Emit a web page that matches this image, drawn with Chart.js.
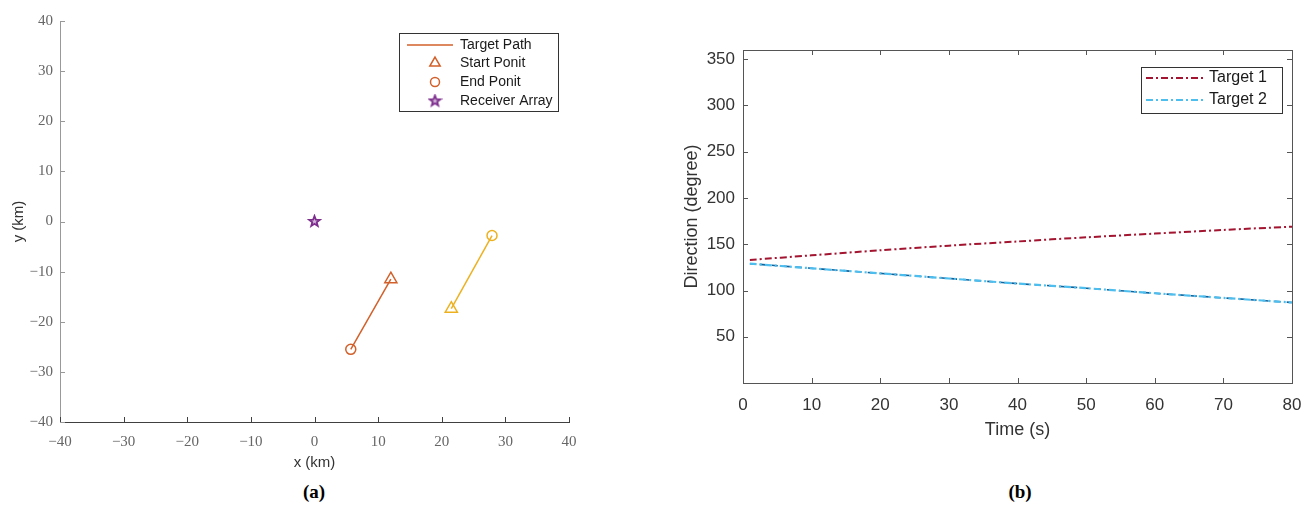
<!DOCTYPE html>
<html>
<head>
<meta charset="utf-8">
<script src="https://cdn.jsdelivr.net/npm/chart.js@4/dist/chart.umd.min.js"></script>
<style>
  html, body { margin: 0; padding: 0; background: #fff; }
  body { width: 1315px; height: 512px; position: relative; overflow: hidden; }
  .panel { position: absolute; top: 0; }
  .cap { position: absolute; top: 481px; font: bold 19px "Liberation Serif", serif; color: #000; transform: translateX(-50%); }
</style>
</head>
<body>
<div class="panel" style="left:0;width:600px;height:472px"><canvas id="chartA" width="600" height="472"></canvas></div>
<div class="panel" style="left:640px;width:675px;height:441px"><canvas id="chartB" width="675" height="441"></canvas></div>
<div class="cap" style="left:314px">(a)</div>
<div class="cap" style="left:1020px">(b)</div>
<script>
// panel (a) - target tracks, km
var startX = [12, 21.5];
var startY = [-11.5, -17.4];
var endX = [5.7, 27.9];
var endY = [-25.5, -2.8];
var receiverX = [0];
var receiverY = [0];
var trackColors = ['#D2602A', '#EDB120'];
var receiverColor = '#7E2F8E';

// panel (b) - bearing vs time
var timeS = [1, 10, 20, 30, 40, 50, 60, 70, 80];
var target1Deg = [133, 138, 143.5, 148.5, 153, 157.5, 161.5, 165.5, 169];
var target2Deg = [129, 124, 118.5, 113, 107.5, 102.5, 97, 92, 87];

var sans = '"Liberation Sans", Arial, sans-serif';
var serif = '"Liberation Serif", "Times New Roman", serif';

function makeStar(r, color) {
  var c = document.createElement('canvas');
  var s = Math.ceil(r * 2 + 4);
  c.width = s; c.height = s;
  var g = c.getContext('2d');
  g.strokeStyle = color; g.lineWidth = 1.8;
  g.fillStyle = 'rgba(126,47,142,0.35)';
  g.beginPath();
  for (var i = 0; i < 10; i++) {
    var rad = i % 2 === 0 ? r : r * 0.42;
    var a = -Math.PI / 2 + i * Math.PI / 5;
    var px = s / 2 + rad * Math.cos(a), py = s / 2 + rad * Math.sin(a);
    if (i === 0) g.moveTo(px, py); else g.lineTo(px, py);
  }
  g.closePath(); g.fill(); g.stroke();
  return c;
}
var starImg = makeStar(5.5, receiverColor);

function minus(v) { return (v < 0 ? '\u2212' : '') + Math.abs(v); }

// tick marks pointing into the plot, like matlab
function insideTicks(list) {
  return {
    id: 'insideTicks',
    beforeDatasetsDraw: function(chart) {
      var ctx = chart.ctx, a = chart.chartArea;
      ctx.save();
      ctx.lineWidth = 1;
      list.forEach(function(t) {
        var sc = chart.scales[t.scale];
        ctx.strokeStyle = t.color;
        sc.ticks.forEach(function(tk) {
          if (t.skip && t.skip.indexOf(tk.value) >= 0) return;
          var p = Math.round(sc.getPixelForValue(tk.value)) + 0.5;
          ctx.beginPath();
          if (t.side === 'bottom') { ctx.moveTo(p, a.bottom); ctx.lineTo(p, a.bottom - t.len); }
          if (t.side === 'top') { ctx.moveTo(p, a.top); ctx.lineTo(p, a.top + t.len); }
          if (t.side === 'left') { ctx.moveTo(a.left, p); ctx.lineTo(a.left + t.len, p); }
          if (t.side === 'right') { ctx.moveTo(a.right, p); ctx.lineTo(a.right - t.len, p); }
          ctx.stroke();
        });
      });
      ctx.restore();
    }
  };
}

function drawMarker(ctx, style, x, y, r, color) {
  ctx.save();
  ctx.strokeStyle = color; ctx.lineWidth = 1.5;
  ctx.beginPath();
  if (style === 'triangle') {
    for (var i = 0; i < 3; i++) {
      var ang = i * 2 * Math.PI / 3;
      var px = x + Math.sin(ang) * r, py = y - Math.cos(ang) * r;
      if (i === 0) ctx.moveTo(px, py); else ctx.lineTo(px, py);
    }
    ctx.closePath(); ctx.stroke();
  } else if (style === 'circle') {
    ctx.arc(x, y, r, 0, Math.PI * 2); ctx.stroke();
  } else {
    ctx.drawImage(style, x - style.width / 2, y - style.height / 2);
  }
  ctx.restore();
}

// boxed legend placed at the top right of the chart area
function boxLegend(cfg) {
  return {
    id: 'boxLegend',
    afterDraw: function(chart) {
      var ctx = chart.ctx, a = chart.chartArea;
      var left = a.right - cfg.right - cfg.width, top = a.top + cfg.top;
      ctx.save();
      ctx.fillStyle = '#fff';
      ctx.fillRect(left, top, cfg.width, cfg.height);
      ctx.strokeStyle = '#333'; ctx.lineWidth = 1;
      ctx.strokeRect(Math.round(left) + 0.5, Math.round(top) + 0.5, cfg.width, cfg.height);
      ctx.font = cfg.font;
      ctx.textBaseline = 'middle';
      cfg.items.forEach(function(it, i) {
        var y = top + cfg.rows[i];
        if (it.line) {
          ctx.save();
          ctx.strokeStyle = it.color; ctx.lineWidth = it.width || 1.5;
          ctx.setLineDash(it.dash || []);
          ctx.beginPath();
          ctx.moveTo(left + cfg.lineFrom, y); ctx.lineTo(left + cfg.lineTo, y);
          ctx.stroke();
          ctx.restore();
        } else {
          drawMarker(ctx, it.marker, left + cfg.markX, y, it.r, it.color);
        }
        ctx.fillStyle = '#1a1a1a';
        ctx.fillText(it.text, left + cfg.textX, y);
      });
      ctx.restore();
    }
  };
}

var dsA = [];
for (var i = 0; i < startX.length; i++) {
  dsA.push({
    label: 'Target Path',
    data: [{x: startX[i], y: startY[i]}, {x: endX[i], y: endY[i]}],
    showLine: true, borderColor: trackColors[i], borderWidth: 1.5, pointRadius: 0
  });
  dsA.push({
    label: 'Start Ponit',
    data: [{x: startX[i], y: startY[i]}],
    pointStyle: 'triangle', pointRadius: 7, borderColor: trackColors[i],
    backgroundColor: 'rgba(0,0,0,0)', borderWidth: 1.5
  });
  dsA.push({
    label: 'End Ponit',
    data: [{x: endX[i], y: endY[i]}],
    pointStyle: 'circle', pointRadius: 5, borderColor: trackColors[i],
    backgroundColor: 'rgba(0,0,0,0)', borderWidth: 1.5
  });
}
dsA.push({
  label: 'Receiver Array',
  data: receiverX.map(function(x, k) { return {x: x, y: receiverY[k]}; }),
  pointStyle: starImg, pointRadius: 6, borderColor: receiverColor
});

new Chart(document.getElementById('chartA'), {
  type: 'scatter',
  data: { datasets: dsA },
  options: {
    responsive: false, animation: false,
    layout: { padding: { left: 10, right: 31, top: 21, bottom: 0 } },
    plugins: { legend: { display: false }, tooltip: { enabled: false } },
    scales: {
      x: {
        type: 'linear', position: 'bottom', min: -40, max: 40,
        ticks: { stepSize: 10, padding: 11, color: '#666', font: { family: serif, size: 15 }, callback: minus },
        grid: { display: false, drawTicks: false },
        border: { display: true, color: '#404040', width: 1 },
        title: { display: true, text: 'x (km)', color: '#333', padding: 0, font: { family: sans, size: 15 } },
        afterFit: function(s) { s.height = 50; }
      },
      y: {
        type: 'linear', position: 'left', min: -40, max: 40,
        ticks: { stepSize: 10, padding: 7, color: '#666', font: { family: serif, size: 15 }, callback: minus },
        grid: { display: false, drawTicks: false },
        border: { display: true, color: '#999', width: 1 },
        title: { display: true, text: 'y (km)', color: '#333', padding: 0, font: { family: sans, size: 15 } },
        afterFit: function(s) { s.width = 50; }
      }
    }
  },
  plugins: [
    insideTicks([
      { scale: 'x', side: 'bottom', len: 5, color: '#404040' },
      { scale: 'y', side: 'left', len: 5, color: '#999' }
    ]),
    boxLegend({
      right: 11, top: 12, width: 159, height: 78, font: '14px ' + sans,
      rows: [12, 30, 49, 68], lineFrom: 8, lineTo: 54, markX: 36, textX: 61,
      items: [
        { line: true, color: trackColors[0], text: 'Target Path' },
        { marker: 'triangle', r: 6, color: trackColors[0], text: 'Start Ponit' },
        { marker: 'circle', r: 4.5, color: trackColors[0], text: 'End Ponit' },
        { marker: starImg, color: receiverColor, text: 'Receiver Array' }
      ]
    })
  ]
});

var dash = [7, 3, 2, 3];
function pts(ys) { return timeS.map(function(t, k) { return {x: t, y: ys[k]}; }); }

new Chart(document.getElementById('chartB'), {
  type: 'line',
  data: {
    datasets: [
      { label: 'Target 1', data: pts(target1Deg), borderColor: '#A2142F', borderWidth: 2, borderDash: dash, pointRadius: 0, tension: 0.3 },
      { label: 'Target 2', data: pts(target2Deg), borderColor: '#4DBEEE', borderWidth: 2.2, borderDash: dash, pointRadius: 0, tension: 0.3 },
      { label: 'Target 2 track', data: pts(target2Deg), borderColor: '#135F98', borderWidth: 1.6, borderDash: [6, 6], borderDashOffset: 2, pointRadius: 0, tension: 0.3 }
    ]
  },
  options: {
    responsive: false, animation: false,
    layout: { padding: { left: 41, right: 23, top: 50, bottom: 0 } },
    plugins: { legend: { display: false }, tooltip: { enabled: false } },
    scales: {
      x: {
        type: 'linear', min: 0, max: 80,
        ticks: { stepSize: 10, padding: 12, color: '#333', font: { family: sans, size: 17 } },
        grid: { display: false, drawTicks: false },
        border: { display: false },
        title: { display: true, text: 'Time (s)', color: '#333', padding: 0, font: { family: sans, size: 18 } },
        afterFit: function(s) { s.height = 58; }
      },
      y: {
        type: 'linear', min: 0, max: 360,
        ticks: { stepSize: 50, includeBounds: false, padding: 8, color: '#333', font: { family: sans, size: 17 },
          callback: function(v) { return v === 0 ? '' : v; } },
        grid: { display: false, drawTicks: false },
        border: { display: false },
        title: { display: true, text: 'Direction (degree)', color: '#333', padding: 0, font: { family: sans, size: 18 } },
        afterFit: function(s) { s.width = 62; }
      }
    }
  },
  plugins: [
    {
      id: 'frame',
      afterDatasetsDraw: function(chart) {
        var a = chart.chartArea, ctx = chart.ctx;
        ctx.save();
        ctx.strokeStyle = '#555'; ctx.lineWidth = 1;
        ctx.strokeRect(Math.round(a.left) + 0.5, Math.round(a.top) + 0.5, Math.round(a.width), Math.round(a.height));
        ctx.restore();
      }
    },
    insideTicks([
      { scale: 'x', side: 'bottom', len: 5, color: '#555', skip: [0, 80] },
      { scale: 'x', side: 'top', len: 5, color: '#555', skip: [0, 80] },
      { scale: 'y', side: 'left', len: 5, color: '#555', skip: [0] },
      { scale: 'y', side: 'right', len: 5, color: '#555', skip: [0] }
    ]),
    boxLegend({
      right: 10, top: 17, width: 141, height: 46, font: '16px ' + sans,
      rows: [11, 33], lineFrom: 5, lineTo: 64, textX: 68,
      items: [
        { line: true, color: '#A2142F', dash: dash, width: 2, text: 'Target 1' },
        { line: true, color: '#4DBEEE', dash: dash, width: 2, text: 'Target 2' }
      ]
    })
  ]
});
</script>
</body>
</html>
